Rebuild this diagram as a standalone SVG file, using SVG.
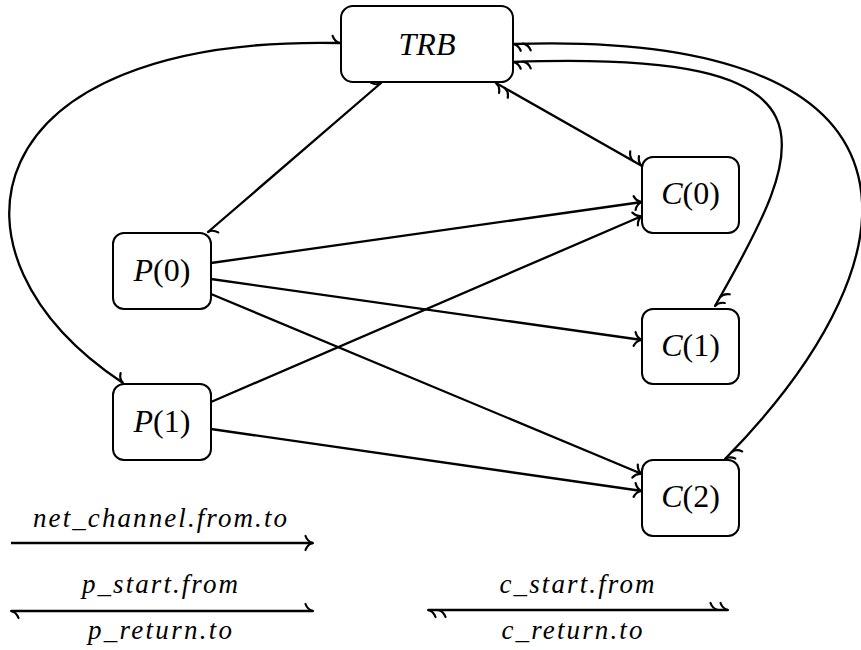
<svg xmlns="http://www.w3.org/2000/svg" width="861" height="650" viewBox="0 0 861 650">
<style>
.box{fill:#fff;stroke:#000;stroke-width:2}
.lbl{font-family:"Liberation Serif","Times New Roman",serif;font-size:32px;fill:#000;text-anchor:middle}
.it{font-style:italic}
.up{font-style:normal}
.leg{font-family:"Liberation Serif","Times New Roman",serif;font-size:27px;font-style:italic;fill:#000;text-anchor:middle}
.e{fill:none;stroke:#000;stroke-width:2.3}
.mk{fill:none;stroke:#000;stroke-width:2.2;stroke-linecap:round}
.arr{marker-end:url(#arr)}
.hp{marker-start:url(#harp);marker-end:url(#harp)}
.dh{marker-start:url(#dharp);marker-end:url(#dharp)}
</style>
<defs>
<marker id="arr" viewBox="-12 -10 14 20" refX="0" refY="0" markerWidth="14" markerHeight="20" markerUnits="userSpaceOnUse" orient="auto" overflow="visible">
<path class="mk" d="M0,0 C-2,-0.4 -5.8,-2.3 -7.5,-7 M0,0 C-2,0.4 -5.8,2.3 -7.5,7"/>
</marker>
<marker id="harp" viewBox="-12 -10 14 20" refX="0" refY="0" markerWidth="14" markerHeight="20" markerUnits="userSpaceOnUse" orient="auto-start-reverse" overflow="visible">
<path class="mk" d="M0,0 C-2,-0.4 -5.8,-2.3 -7.5,-7"/>
</marker>
<marker id="dharp" viewBox="-20 -10 22 20" refX="0" refY="0" markerWidth="22" markerHeight="20" markerUnits="userSpaceOnUse" orient="auto-start-reverse" overflow="visible">
<path class="mk" d="M0,0 C-2,-0.4 -5.8,-2.3 -7.5,-7 M-10,0 C-12,-0.4 -15.8,-2.3 -17.5,-7"/>
</marker>
</defs>

<g id="connectors">
<path class="e hp" d="M381,83 L208,232"/>
<path class="e hp" d="M340,43 C-30,35 -70,255 123,383"/>
<path class="e dh" d="M496,83 L642,166"/>
<path class="e dh" d="M513,62 C850,50 810,140 715,306"/>
<path class="e dh" d="M513,44 C940,30 930,250 725,459"/>
<path class="e arr" d="M211,263 L642,202"/>
<path class="e arr" d="M211,279 L642,340"/>
<path class="e arr" d="M211,294 L642,474"/>
<path class="e arr" d="M211,402 L642,216"/>
<path class="e arr" d="M211,429 L642,491"/>
</g>

<g id="TRB">
<rect class="box" x="341" y="6" width="172" height="76" rx="12"/>
<text class="lbl it" x="427" y="55">TRB</text>
</g>
<g id="C0">
<rect class="box" x="642" y="157" width="97" height="76" rx="11"/>
<text class="lbl" x="690.5" y="204"><tspan class="it">C</tspan><tspan class="up">(0)</tspan></text>
</g>
<g id="C1">
<rect class="box" x="642" y="309" width="97" height="75" rx="11"/>
<text class="lbl" x="690.5" y="356"><tspan class="it">C</tspan><tspan class="up">(1)</tspan></text>
</g>
<g id="C2">
<rect class="box" x="642" y="460" width="97" height="76" rx="11"/>
<text class="lbl" x="690.5" y="507"><tspan class="it">C</tspan><tspan class="up">(2)</tspan></text>
</g>
<g id="P0">
<rect class="box" x="113" y="233" width="98" height="76" rx="11"/>
<text class="lbl" x="162" y="281"><tspan class="it">P</tspan><tspan class="up">(0)</tspan></text>
</g>
<g id="P1">
<rect class="box" x="113" y="384" width="98" height="76" rx="11"/>
<text class="lbl" x="162" y="432"><tspan class="it">P</tspan><tspan class="up">(1)</tspan></text>
</g>

<g id="legend">
<text class="leg" x="160" y="527" textLength="254" lengthAdjust="spacing">net_channel.from.to</text>
<path class="e arr" d="M11,543 L313,543"/>
<text class="leg" x="160" y="593" textLength="156" lengthAdjust="spacing">p_start.from</text>
<path class="e hp" d="M11,611 L313,611"/>
<text class="leg" x="160" y="639" textLength="144" lengthAdjust="spacing">p_return.to</text>
<text class="leg" x="577" y="593" textLength="155" lengthAdjust="spacing">c_start.from</text>
<path class="e dh" d="M428,610 L728,610"/>
<text class="leg" x="572" y="639" textLength="141" lengthAdjust="spacing">c_return.to</text>
</g>
</svg>
